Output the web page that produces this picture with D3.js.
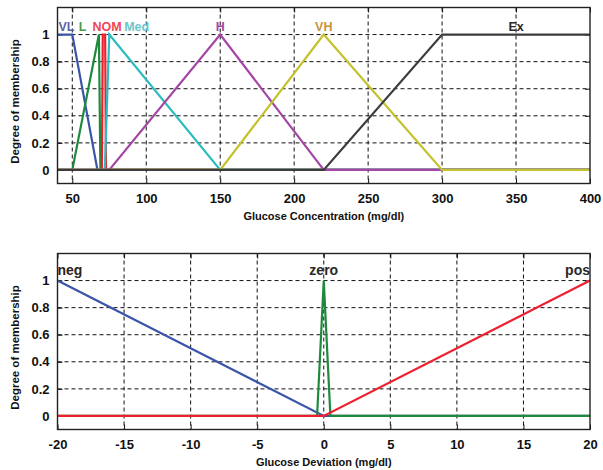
<!DOCTYPE html>
<html><head><meta charset="utf-8">
<script src="https://cdn.jsdelivr.net/npm/d3@7"></script>
<style>
html,body{margin:0;padding:0;background:#fff;}
svg{display:block;}
text{font-family:Arial,"Liberation Sans",sans-serif;}
</style></head>
<body>
<svg id="chart" width="603" height="470"></svg>
<script>
// ---------- DATA ----------
// Top: glucose concentration membership functions (trapezoid params a,b,c,d)
const topNames   = ["VL","L","NOM","Med","H","VH","Ex"];
const topParams  = [[40,40,50,67],[50,68,68,69],[70,70.6,72.2,72.8],[72,75,75,150],[75,150,150,220],[150,220,220,300],[220,300,400,400]];
const topColors  = ["#3a54a8","#1f8a3e","#ee2030","#2bbcbf","#a446a6","#c4c22a","#3c3c3c"];
const topLabelX  = [46,57,73.5,93.5,150,220,350];
const topLabelColors = ["#5a64a8","#4a9a4a","#f04658","#6ac8c8","#a446a6","#c8943a","#2a2a2a"];
const topXTicks  = [50,100,150,200,250,300,350,400];
const yTicks     = [0,0.2,0.4,0.6,0.8,1];
const yTickLabels= ["0","0.2","0.4","0.6","0.8","1"];

// Bottom: glucose deviation membership functions
const botNames   = ["neg","zero","pos"];
const botParams  = [[-20,-20,-20,0],[-0.5,0,0,0.5],[0,20,20,20]];
const botColors  = ["#3a54a8","#1f8a3e","#ee2030"];
const botXTicks  = [-20,-15,-10,-5,0,5,10,15,20];

// ---------- DRAW ----------
const svg = d3.select("#chart");

function mfPoints(p, lo, hi){
  const [a,b,c,d] = p;
  const pts = [];
  if (a <= lo && b <= lo) pts.push([lo,1]);
  else { pts.push([lo,0]); if (a>lo) pts.push([a,0]); pts.push([b,1]); }
  if (c > b) pts.push([c,1]);
  if (d >= hi && c >= hi) { if (pts[pts.length-1][0] < hi) pts.push([hi,1]); }
  else { pts.push([d,0]); if (d<hi) pts.push([hi,0]); }
  return pts;
}

function panel(opts){
  const g = svg.append("g");
  const x = d3.scaleLinear().domain(opts.xDomain).range([opts.left, opts.right]);
  const y = d3.scaleLinear().domain([-0.1,1.2]).range([opts.bottom, opts.top]);

  // grid
  g.append("g").selectAll("line").data(opts.xTicks.filter(t=>t>opts.xDomain[0] && t<opts.xDomain[1]))
    .join("line").attr("x1",d=>x(d)).attr("x2",d=>x(d)).attr("y1",opts.top).attr("y2",opts.bottom)
    .attr("stroke","#111").attr("stroke-width",1).attr("stroke-dasharray","4,3");
  g.append("g").selectAll("line").data(yTicks.filter(t=>t>0))
    .join("line").attr("x1",opts.left).attr("x2",opts.right).attr("y1",d=>y(d)).attr("y2",d=>y(d))
    .attr("stroke","#111").attr("stroke-width",1).attr("stroke-dasharray","4,3");

  // axes with inner ticks
  const xb = d3.axisBottom(x).tickValues(opts.xTicks).tickSize(-5).tickPadding(10).tickFormat(d=>String(d));
  const gx = g.append("g").attr("transform",`translate(0,${opts.bottom})`).call(xb);
  const yl = d3.axisLeft(y).tickValues(yTicks).tickSize(-5).tickPadding(8).tickFormat((d,i)=>yTickLabels[i]);
  const gy = g.append("g").attr("transform",`translate(${opts.left},0)`).call(yl);
  const xt = d3.axisTop(x).tickValues(opts.xTicks).tickSize(-5).tickFormat("");
  const gxt = g.append("g").attr("transform",`translate(0,${opts.top})`).call(xt);
  const yr = d3.axisRight(y).tickValues(yTicks).tickSize(-5).tickFormat("");
  const gyr = g.append("g").attr("transform",`translate(${opts.right},0)`).call(yr);
  [gx,gy,gxt,gyr].forEach(a=>{
    a.select(".domain").remove();
    a.selectAll(".tick line").attr("stroke","#111").attr("stroke-width",1);
    a.selectAll("text").attr("font-size",13).attr("font-weight","bold").attr("fill","#111");
  });

  // MF lines
  const line = d3.line().x(d=>x(d[0])).y(d=>y(d[1]));
  opts.params.forEach((p,i)=>{
    g.append("path").datum(mfPoints(p,opts.xDomain[0],opts.xDomain[1]))
      .attr("d",line).attr("fill","none").attr("stroke",opts.colors[i])
      .attr("stroke-width",2.2).attr("stroke-linejoin","miter");
  });

  // frame
  g.append("rect").attr("x",opts.left).attr("y",opts.top)
    .attr("width",opts.right-opts.left).attr("height",opts.bottom-opts.top)
    .attr("fill","none").attr("stroke","#222").attr("stroke-width",1.4);

  // labels
  opts.names.forEach((n,i)=>{
    g.append("text").attr("x",x(opts.labelX[i])).attr("y",opts.labelY)
      .attr("text-anchor",opts.anchors[i]).attr("font-size",opts.labelSize)
      .attr("font-weight","bold").attr("fill",opts.labelColors[i]).text(n);
  });

  // axis titles
  g.append("text").attr("x",(opts.left+opts.right)/2).attr("y",opts.xTitleY)
    .attr("text-anchor","middle").attr("font-size",11).attr("font-weight","bold").attr("fill","#111")
    .text(opts.xTitle);
  g.append("text").attr("transform",`translate(19,${(opts.top+opts.bottom)/2+6}) rotate(-90)`)
    .attr("text-anchor","middle").attr("font-size",11.5).attr("font-weight","bold").attr("fill","#111")
    .text("Degree of membership");
}

panel({
  xDomain:[40,400], left:57.5, right:590, top:7.5, bottom:183.5,
  xTicks: topXTicks, params: topParams, colors: topColors, names: topNames,
  labelX: topLabelX, labelColors: topLabelColors, anchors: topNames.map(()=> "middle"),
  labelY: 31, labelSize: 12.5, xTitle: "Glucose Concentration (mg/dl)", xTitleY: 220
});
panel({
  xDomain:[-20,20], left:57.5, right:590, top:253.5, bottom:429.5,
  xTicks: botXTicks, params: botParams, colors: botColors, names: botNames,
  labelX: [-20,0,20], labelColors: ["#2a2222","#2a2a2a","#2a2a2a"], anchors: ["start","middle","end"],
  labelY: 275, labelSize: 14, xTitle: "Glucose Deviation (mg/dl)", xTitleY: 466
});
</script>
</body></html>
